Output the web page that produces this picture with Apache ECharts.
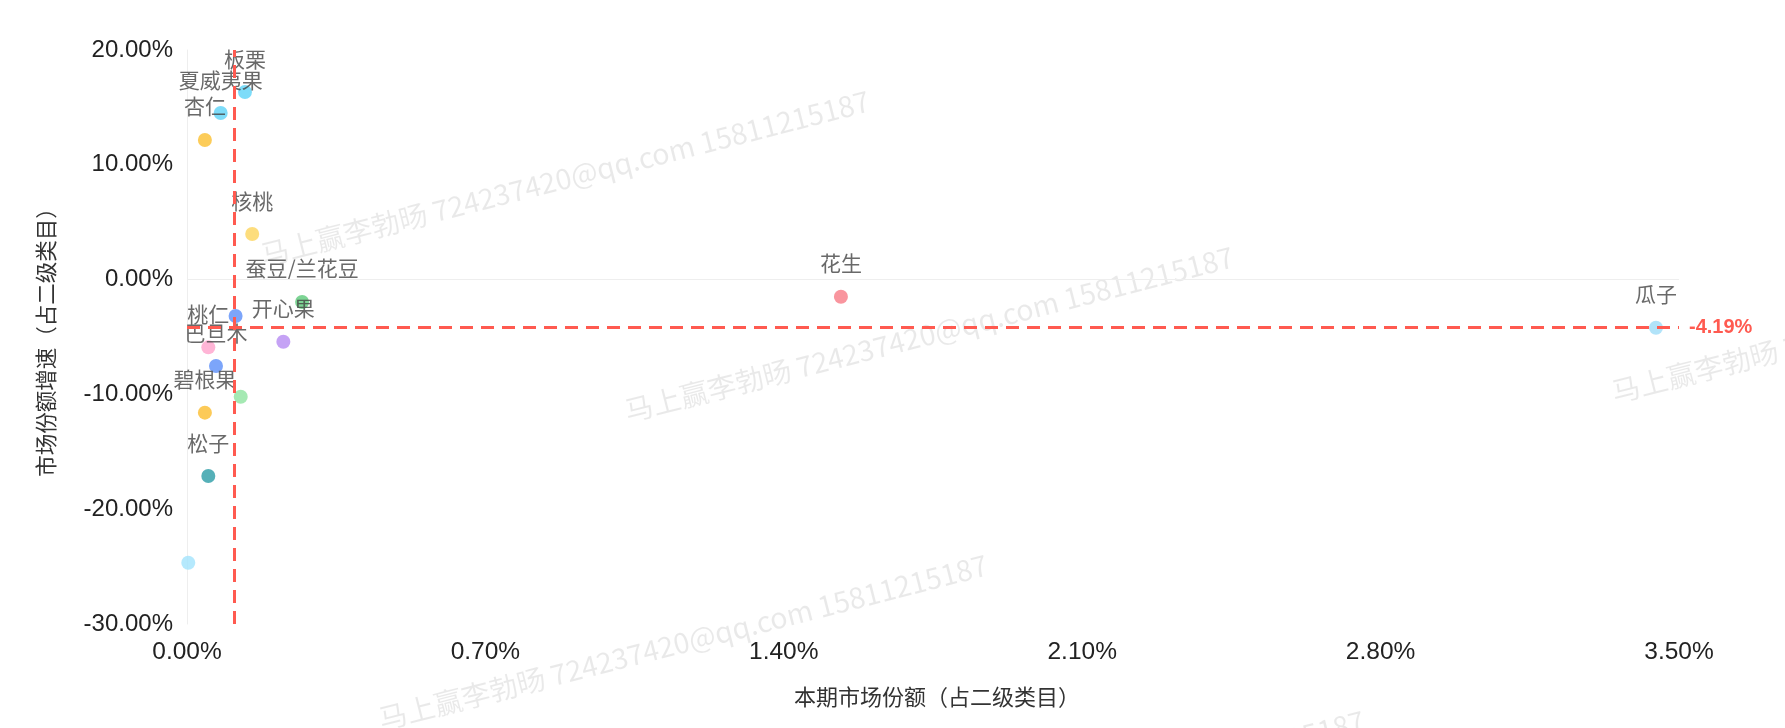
<!DOCTYPE html>
<html>
<head>
<meta charset="utf-8">
<script src="https://cdn.jsdelivr.net/npm/echarts@6/dist/echarts.min.js"></script>
<style>
html,body{margin:0;padding:0;background:#ffffff;}
#chart{width:1785px;height:728px;}
</style>
</head>
<body>
<div id="chart"></div>
<script>
// ---- data ----
const names  = ['板栗','夏威夷果','杏仁','核桃','蚕豆/兰花豆','开心果','','桃仁','巴旦木','','碧根果','松子','','花生','瓜子'];
const share  = [0.136, 0.079, 0.042, 0.153, 0.270, 0.226, 0.114, 0.050, 0.068, 0.126, 0.042, 0.050, 0.003, 1.534, 3.446];
const growth = [16.34, 14.51, 12.16, 3.97, -1.95, -5.41, -3.17, -5.90, -7.53, -10.20, -11.59, -17.11, -24.66, -1.49, -4.19];
const medianShare  = 0.114;
const medianGrowth = -4.19;
const xTickMin = 0, xTickMax = 3.5, xTickStep = 0.7;
const yTickMin = -30, yTickMax = 20, yTickStep = 10;
const xAxisName = '本期市场份额（占二级类目）';
const yAxisName = '市场份额增速（占二级类目）';
const watermarkText = '马上赢李勃旸 724237420@qq.com 15811215187';

// ---- styles ----
const pointColors = ['#5dd3f7','#5dd3f7','#fbbf2f','#fdd45c','#5cc979','#b68bf2','#5b8ff9','#ffa3cc','#5b8ff9','#8fe3a0','#fbbd2e','#2a9ca6','#a3e3fd','#f77b86','#9edcf7'];

const chart = echarts.init(document.getElementById('chart'), null, {renderer: 'canvas'});

const points = names.map((n, i) => ({
  name: n,
  value: [share[i], growth[i]],
  itemStyle: {color: pointColors[i]},
  label: {show: n !== ''}
}));

const pct = v => v.toFixed(2) + '%';

const wmPos = [[565,178],[929,334],[1916,315],[683,642],[1060,798]];
const graphics = wmPos.map(p => ({
  type: 'text',
  x: p[0], y: p[1],
  rotation: 0.25,
  z: 0,
  silent: true,
  style: {
    text: watermarkText,
    fill: 'rgba(0,0,0,0.085)',
    font: '28.5px "Noto Sans CJK SC", "Noto Sans", sans-serif',
    align: 'center',
    verticalAlign: 'middle'
  }
}));

chart.setOption({
  animation: false,
  backgroundColor: '#ffffff',
  graphic: graphics,
  grid: {left: 187, right: 106, top: 50, bottom: 104, containLabel: false, outerBoundsMode: 'none'},
  xAxis: {
    type: 'value',
    min: xTickMin, max: xTickMax, interval: xTickStep,
    name: xAxisName,
    nameLocation: 'middle',
    nameGap: 62,
    nameTextStyle: {color: '#333', fontSize: 22, padding: [0, 0, 0, 8], fontFamily: '"Noto Sans CJK SC", sans-serif'},
    axisLine: {show: false},
    axisTick: {show: false},
    splitLine: {show: false},
    axisLabel: {color: '#222', fontSize: 24.5, margin: 16, fontFamily: '"Liberation Sans", Arial, sans-serif', formatter: pct}
  },
  yAxis: {
    type: 'value',
    min: yTickMin, max: yTickMax, interval: yTickStep,
    name: yAxisName,
    nameLocation: 'middle',
    nameGap: 130,
    nameTextStyle: {color: '#333', fontSize: 21.5, fontFamily: '"Noto Sans CJK SC", sans-serif'},
    axisLine: {show: true, onZero: false, lineStyle: {color: '#eeeeee', width: 1}},
    axisTick: {show: false},
    splitLine: {show: false},
    axisLabel: {color: '#222', fontSize: 24, margin: 14, fontFamily: '"Liberation Sans", Arial, sans-serif', formatter: pct}
  },
  series: [{
    type: 'scatter',
    symbol: 'circle',
    symbolSize: 14,
    data: points,
    label: {
      position: 'top',
      distance: 16,
      color: '#444',
      fontSize: 21,
      fontFamily: '"Noto Sans CJK SC", sans-serif',
      formatter: p => p.name
    },
    markLine: {
      silent: true,
      symbol: ['none', 'none'],
      animation: false,
      lineStyle: {color: '#ff5a50', width: 3, type: [13, 8]},
      data: [
        {yAxis: 0, lineStyle: {color: '#eeeeee', width: 1, type: 'solid'}, label: {show: false}},
        {xAxis: medianShare, label: {show: false}},
        {yAxis: medianGrowth, label: {
          show: true, position: 'end', distance: 10,
          color: '#ff5a50', fontWeight: 'bold', fontSize: 20,
          fontFamily: '"Liberation Sans", Arial, sans-serif',
          formatter: p => pct(p.value)
        }}
      ]
    }
  }]
});
</script>
</body>
</html>
